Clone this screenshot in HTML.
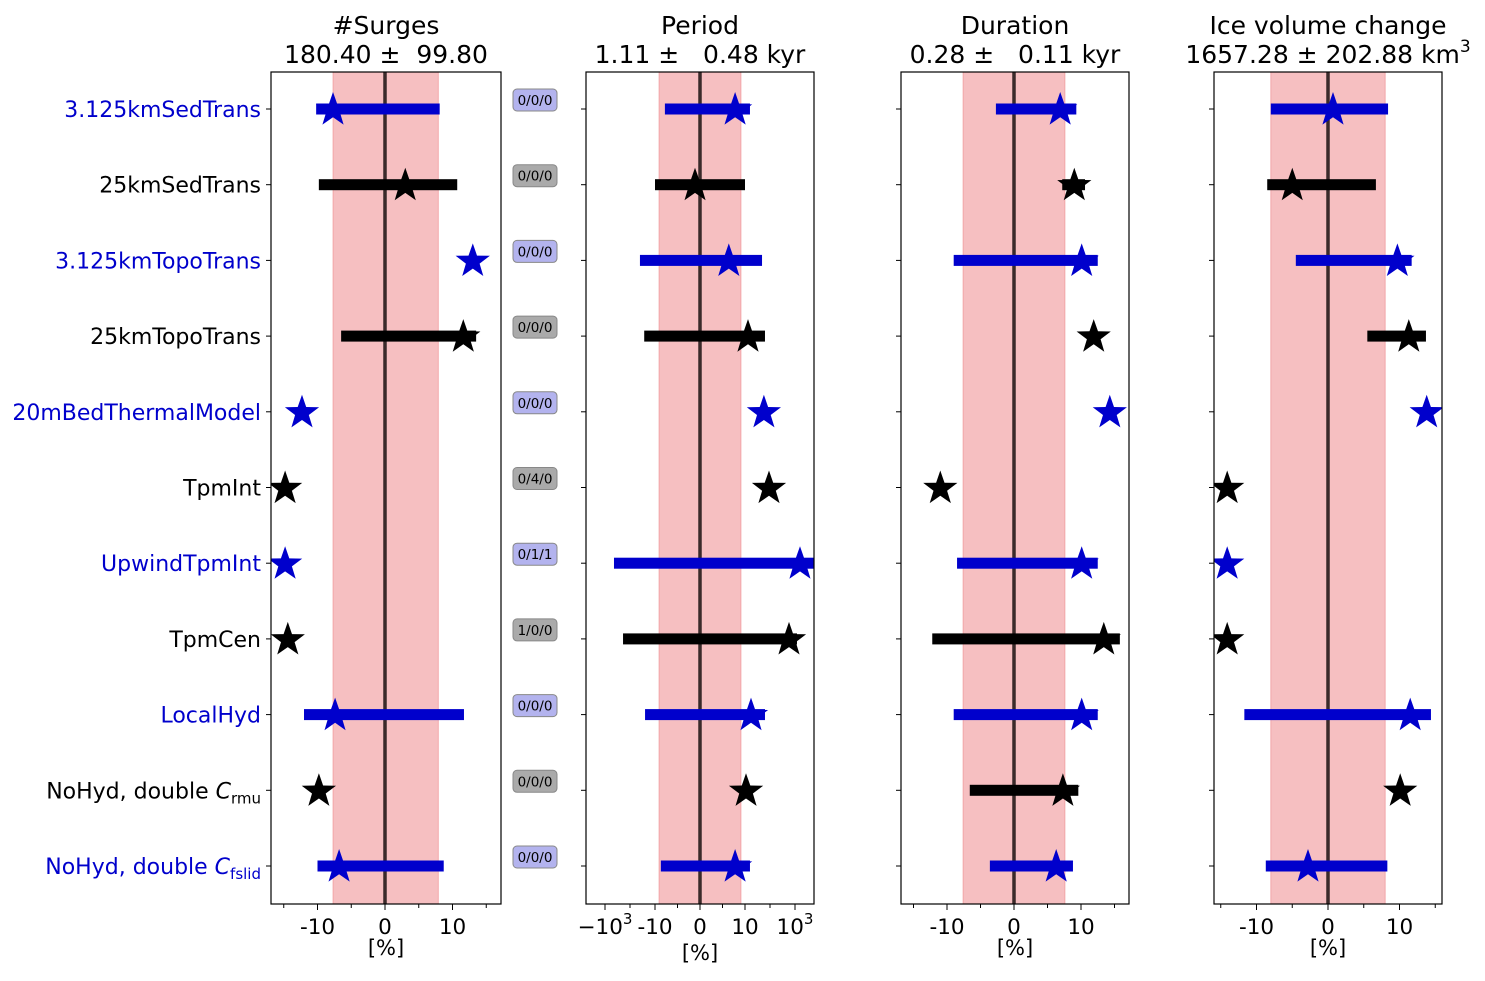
<!DOCTYPE html>
<html><head><meta charset="utf-8"><style>
body{margin:0;background:#fff}
svg{font-family:"DejaVu Sans","Liberation Sans",sans-serif}
</style></head><body>
<svg id="fig" width="1485" height="976" xmlns="http://www.w3.org/2000/svg"></svg>
<script>
const rows = ["3.125kmSedTrans","25kmSedTrans","3.125kmTopoTrans","25kmTopoTrans","20mBedThermalModel","TpmInt","UpwindTpmInt","TpmCen","LocalHyd","NoHyd, double C_rmu","NoHyd, double C_fslid"];
const rowColors = ["blue","black","blue","black","blue","black","blue","black","blue","black","blue"];
const counts = ["0/0/0","0/0/0","0/0/0","0/0/0","0/0/0","0/4/0","0/1/1","1/0/0","0/0/0","0/0/0","0/0/0"];
const titles1 = ["#Surges","Period","Duration","Ice volume change"];
const titles2 = ["180.40 \u00b1  99.80","1.11 \u00b1   0.48 kyr","0.28 \u00b1   0.11 kyr","1657.28 \u00b1 202.88 km"];
const bands = [[-7.7,7.9],[-9.1,9.1],[-7.6,7.6],[-8,8]];
const starsSurges = [-7.7,3.0,13,11.6,-12.3,-14.8,-14.8,-14.4,-7.4,-9.8,-6.8];
const starsPeriod = [7.8,-1.1,6.4,13.2,57,91,1580,575,17.4,11,7.8];
const starsDuration = [6.9,9.0,10.1,11.9,14.3,-11.0,10.1,13.4,10.1,7.3,6.3];
const starsIce = [0.7,-5,9.7,11.3,13.8,-14.1,-14.1,-14.1,11.5,10.1,-2.8];
const barsSurges = [[-10.2,8.1],[-9.8,10.7],null,[-6.5,13.5],null,null,null,null,[-12,11.7],null,[-10,8.7]];
const barsPeriod = [[-7.8,15.8],[-10,10],[-40,48],[-27,63],null,null,[-437,5750],[-190,1200],[-25,63],null,[-8.7,15.8]];
const barsDuration = [[-2.7,9.3],[7.2,10.6],[-9,12.5],null,null,null,[-8.5,12.5],[-12.2,15.8],[-9,12.5],[-6.6,9.6],[-3.6,8.8]];
const barsIce = [[-8,8.4],[-8.5,6.7],[-4.5,11.7],[5.5,13.7],null,null,null,null,[-11.7,14.4],null,[-8.7,8.3]];

const svg=document.getElementById('fig');const NS="http://www.w3.org/2000/svg";
function mk(t,a,p){const e=document.createElementNS(NS,t);for(const k in a)e.setAttribute(k,a[k]);(p||svg).appendChild(e);return e;}
const TOP=72,BOT=904,Y0=109,DY=75.7;
const yOf=i=>Y0+i*DY;
function lin(zero,ppu){return v=>zero+v*ppu;}
function symlog(v){const a=Math.abs(v),s=Math.sign(v);if(a<=10)return 700+v*4.5;return 700+s*(45+25*Math.log10(a/10));}
const panels=[
 {x0:271,x1:501,f:lin(385,6.75),stars:starsSurges,bars:barsSurges,ticks:[[-10,"-10"],[0,"0"],[10,"10"]],minor:[-15,-5,5,15]},
 {x0:586,x1:814,f:symlog,stars:starsPeriod,bars:barsPeriod,ticks:[[-1000,"\u221210^3"],[-10,"-10"],[0,"0"],[10,"10"],[1000,"10^3"]],minor:[-100,-5,5,100]},
 {x0:901,x1:1129,f:lin(1014,6.7),stars:starsDuration,bars:barsDuration,ticks:[[-10,"-10"],[0,"0"],[10,"10"]],minor:[-15,-5,5,15]},
 {x0:1214,x1:1442,f:lin(1328,7.15),stars:starsIce,bars:barsIce,ticks:[[-10,"-10"],[0,"0"],[10,"10"]],minor:[-15,-5,5,15]}
];
const col=c=>c==="blue"?"#0000cc":"#000";
function star(cx,cy,R,fill,p){let pts=[];for(let k=0;k<10;k++){const r=k%2?R*0.4:R;const a=-Math.PI/2+k*Math.PI/5;pts.push((cx+r*Math.cos(a)).toFixed(1)+","+(cy+r*Math.sin(a)).toFixed(1));}return mk('polygon',{points:pts.join(' '),fill:fill},p);}
panels.forEach((P,pi)=>{
 const g=mk('g',{});
 
 
 const cp=mk('clipPath',{id:'cp'+pi},g);mk('rect',{x:P.x0,y:TOP,width:P.x1-P.x0,height:BOT-TOP},cp);
 const b=mk('rect',{x:P.f(bands[pi][0]),y:TOP,width:P.f(bands[pi][1])-P.f(bands[pi][0]),height:BOT-TOP,fill:"#ee8a8e","fill-opacity":0.55,stroke:"#ee8a8e","stroke-opacity":0.6},g);
 
 
 const z=mk('line',{x1:P.f(0),x2:P.f(0),y1:TOP,y2:BOT,stroke:"#3a2a2a","stroke-width":3.5},g);
 
 
 const cg=mk('g',{'clip-path':'url(#cp'+pi+')'},g);
 rows.forEach((r,i)=>{const c=col(rowColors[i]);const y=yOf(i);
  if(P.bars[i]){const br=mk('rect',{x:P.f(P.bars[i][0]),y:y-5.5,width:P.f(P.bars[i][1])-P.f(P.bars[i][0]),height:11,fill:c},cg);
   
   }
  const s=star(P.f(P.stars[i]),y+1,18,c,cg);
  
  
  mk('line',{x1:P.x0-5,x2:P.x0,y1:y,y2:y,stroke:"#000","stroke-width":1},g);
 });
 mk('rect',{x:P.x0,y:TOP,width:P.x1-P.x0,height:BOT-TOP,fill:"none",stroke:"#000","stroke-width":1.2},g);
 P.ticks.forEach(t=>{const x=P.f(t[0]);mk('line',{x1:x,x2:x,y1:BOT,y2:BOT+6,stroke:"#000"},g);
  const tx=mk('text',{x:x,y:BOT+30,'font-size':21.5,'text-anchor':'middle'},g);
  const parts=t[1].split('^');
  tx.appendChild(document.createTextNode(parts[0]));
  if(parts[1]){const sp=mk('tspan',{'font-size':15,dy:-10},tx);sp.textContent=parts[1];}
  
  });
 P.minor.forEach(v=>{const x=P.f(v);mk('line',{x1:x,x2:x,y1:BOT,y2:BOT+4,stroke:"#000"},g);});
 const cx=(P.x0+P.x1)/2;
 const xl=mk('text',{x:cx,y:BOT+(pi==1?56:51),'font-size':21,'text-anchor':'middle'},g);xl.textContent="[%]";
 
 
 const t1=mk('text',{x:cx,y:34,'font-size':25,'text-anchor':'middle'},g);t1.textContent=titles1[pi];
 
 
 const t2=mk('text',{x:cx,y:63,'font-size':25,'text-anchor':'middle',style:'white-space:pre'},g);t2.textContent=titles2[pi];
 
 
 if(pi==3){const sp=mk('tspan',{'font-size':17,dy:-11},t2);sp.textContent="3";}
});
rows.forEach((r,i)=>{const y=yOf(i);const c=col(rowColors[i]);
 const t=mk('text',{x:261,y:y+8,'font-size':22,'text-anchor':'end',fill:c});
 
 
 const m=r.match(/^(.*)C_(\w+)$/);
 if(m){t.appendChild(document.createTextNode(m[1]));const a=mk('tspan',{'font-style':'italic'},t);a.textContent="C";const s=mk('tspan',{'font-size':15,dy:5},t);s.textContent=m[2];}
 else t.textContent=r;
 const bx=mk('rect',{x:513,y:y-20,width:44,height:22,rx:4,fill:rowColors[i]==="blue"?"#b3b3ee":"#aaaaaa",stroke:"#888","stroke-width":1});
 
 
 const bt=mk('text',{x:535,y:y-4,'font-size':13.5,'text-anchor':'middle'});bt.textContent=counts[i];
 
 
});
</script>
</body></html>
